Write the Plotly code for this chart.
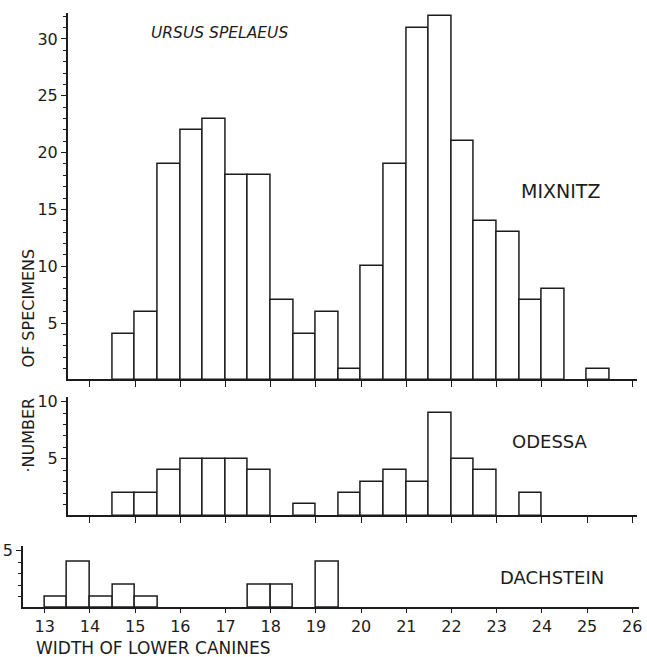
import plotly.graph_objects as go

# ---- data ----
mixnitz_bins = [14.5, 15.0, 15.5, 16.0, 16.5, 17.0, 17.5, 18.0, 18.5, 19.0, 19.5,
                20.0, 20.5, 21.0, 21.5, 22.0, 22.5, 23.0, 23.5, 24.0, 24.5, 25.0]
mixnitz_counts = [4, 6, 19, 22, 23, 18, 18, 7, 4, 6, 1,
                  10, 19, 31, 32, 21, 14, 13, 7, 8, 0, 1]

odessa_bins = [14.5, 15.0, 15.5, 16.0, 16.5, 17.0, 17.5, 18.0, 18.5, 19.0,
               19.5, 20.0, 20.5, 21.0, 21.5, 22.0, 22.5, 23.0, 23.5]
odessa_counts = [2, 2, 4, 5, 5, 5, 4, 0, 1, 0,
                 2, 3, 4, 3, 9, 5, 4, 0, 2]

dachstein_bins = [13.0, 13.5, 14.0, 14.5, 15.0, 15.5, 16.0, 16.5, 17.0, 17.5, 18.0, 18.5, 19.0]
dachstein_counts = [1, 4, 1, 2, 1, 0, 0, 0, 0, 2, 2, 0, 4]

x_ticks = [13, 14, 15, 16, 17, 18, 19, 20, 21, 22, 23, 24, 25, 26]
x_ticklabels = ["13", "14", "15", "16", "17", "18", "19", "20", "21", "22", "23", "24", "25", "26"]
bin_width = 0.5

# ---- layout helpers (pixel -> paper) ----
W, H = 647, 657
def px(x):
    return x / W
def py(y):
    return 1 - y / H

X0_PX, X_UNIT = 45.0, 45.4   # pixel of value 13 and pixels per unit
def xval(p):
    return 13 + (p - X0_PX) / X_UNIT

INK = "#1c1c1c"
FONT = "DejaVu Sans"
LW = 1.5

fig = go.Figure()
for bins, counts, xa, ya in [(mixnitz_bins, mixnitz_counts, "x", "y"),
                             (odessa_bins, odessa_counts, "x2", "y2"),
                             (dachstein_bins, dachstein_counts, "x3", "y3")]:
    pairs = [(b, c) for b, c in zip(bins, counts) if c > 0]
    fig.add_trace(go.Bar(
        x=[b + bin_width / 2 for b, _ in pairs], y=[c for _, c in pairs], width=bin_width,
        marker=dict(color="white", line=dict(color=INK, width=LW)),
        xaxis=xa, yaxis=ya, showlegend=False, hoverinfo="skip"))

common_x = dict(showline=True, linecolor=INK, linewidth=LW, ticks="outside",
                ticklen=6, tickwidth=1.3, tickcolor=INK, showgrid=False,
                zeroline=False, tickvals=x_ticks, ticktext=x_ticklabels,
                tickfont=dict(family=FONT, size=16, color=INK))
common_y = dict(showline=True, linecolor=INK, linewidth=LW, ticks="outside",
                ticklen=5, tickwidth=1.3, tickcolor=INK, showgrid=False,
                zeroline=False, tickfont=dict(family=FONT, size=16, color=INK),
                minor=dict(dtick=1, tick0=0, ticks="outside", ticklen=3,
                           tickwidth=1.1, tickcolor=INK, showgrid=False))

# baseline offset so that the bars' bottom edges coincide with the axis line
def yrange(top_px, unit_px):
    off = (LW / 2) / unit_px
    return [off, off + top_px / unit_px]

fig.update_layout(
    width=W, height=H, autosize=False,
    margin=dict(l=0, r=0, t=0, b=0),
    paper_bgcolor="white", plot_bgcolor="white",
    bargap=0,
    xaxis=dict(domain=[px(68), px(640)], range=[xval(68), xval(640)], anchor="y",
               showticklabels=False, **common_x),
    yaxis=dict(domain=[py(377), py(8)], range=yrange(369, 11.45), anchor="x",
               tickvals=[5, 10, 15, 20, 25, 30], **common_y),
    xaxis2=dict(domain=[px(68), px(640)], range=[xval(68), xval(640)], anchor="y2",
                showticklabels=False, **common_x),
    yaxis2=dict(domain=[py(514), py(395)], range=yrange(119, 11.5), anchor="x2",
                tickvals=[5, 10], **common_y),
    xaxis3=dict(domain=[px(23), px(642)], range=[xval(23), xval(642)], anchor="y3",
                showticklabels=True, **{**common_x, "ticklen": 4}),
    yaxis3=dict(domain=[py(607), py(545)], range=yrange(62, 11.6), anchor="x3",
                tickvals=[5], **common_y),
)

def note(text, x, y, size, angle=0, italic=False, xanchor="center"):
    fig.add_annotation(text=text, xref="paper", yref="paper", x=px(x), y=py(y),
                       xanchor=xanchor, yanchor="middle", showarrow=False,
                       textangle=angle, borderpad=0,
                       font=dict(family=FONT, size=size, color=INK,
                                 style="italic" if italic else "normal"))

note("URSUS SPELAEUS", 221, 28, 15.5, italic=True)
note("MIXNITZ", 563, 187, 19)
note("ODESSA", 553, 440, 18)
note("DACHSTEIN", 555, 577, 18)
note("WIDTH OF LOWER CANINES", 35, 647.5, 17, xanchor="left")
note("OF SPECIMENS", 29, 305, 16, angle=-90)
note("·NUMBER", 29, 433, 16, angle=-90)

fig.write_html("out.html")
